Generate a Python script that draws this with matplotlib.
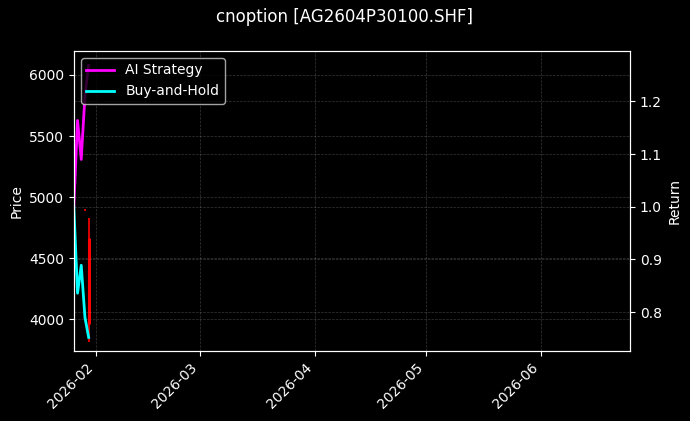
import matplotlib
matplotlib.use("Agg")
import matplotlib.pyplot as plt
import matplotlib.dates as mdates
import pandas as pd

# Daily returns (normalised to 1.0 at start)
dates = pd.to_datetime(["2026-01-26", "2026-01-27", "2026-01-28", "2026-01-29", "2026-01-30"])
strategy = [1.0, 1.164, 1.090, 1.211, 1.269]
buy_hold = [1.0, 0.836, 0.889, 0.790, 0.752]

# Option price candles (only the last sessions have trades)
candle_dates = pd.to_datetime(["2026-01-29", "2026-01-30"])
c_open = [4898, 4670]
c_close = [4893, 3960]
c_high = [4900, 4830]
c_low = [4890, 3815]

x_range = pd.to_datetime(["2026-01-26", "2026-06-25"])

plt.style.use("dark_background")
fig = plt.figure(figsize=(6.9, 4.21), dpi=100)
ax = fig.add_axes([0.107, 0.166, 0.806, 0.713])

# price candles on left axis
ax.vlines(candle_dates, c_low, c_high, color="red", linewidth=1.2)
ax.vlines(candle_dates, c_open, c_close, color="red", linewidth=2.2)
ax.set_ylabel("Price")
ax.set_ylim(3741, 6196)
ax.set_xlim(x_range[0], x_range[1])
ax.grid(True, linestyle="--", linewidth=0.5, alpha=0.22)

ax2 = ax.twinx()
ax2.plot(dates, strategy, color="#ff00ff", linewidth=2, label="AI Strategy")
ax2.plot(dates, buy_hold, color="#00ffff", linewidth=2, label="Buy-and-Hold")
ax2.set_ylabel("Return")
ax2.set_ylim(0.726, 1.296)
ax2.grid(True, linestyle="--", linewidth=0.5, alpha=0.22)
ax2.legend(loc="upper left")

ax.xaxis.set_major_locator(mdates.MonthLocator())
ax.xaxis.set_major_formatter(mdates.DateFormatter("%Y-%m"))
plt.setp(ax.get_xticklabels(), rotation=45, ha="right")

fig.suptitle("cnoption [AG2604P30100.SHF]")
fig.savefig("out.png", dpi=100, facecolor="black")
